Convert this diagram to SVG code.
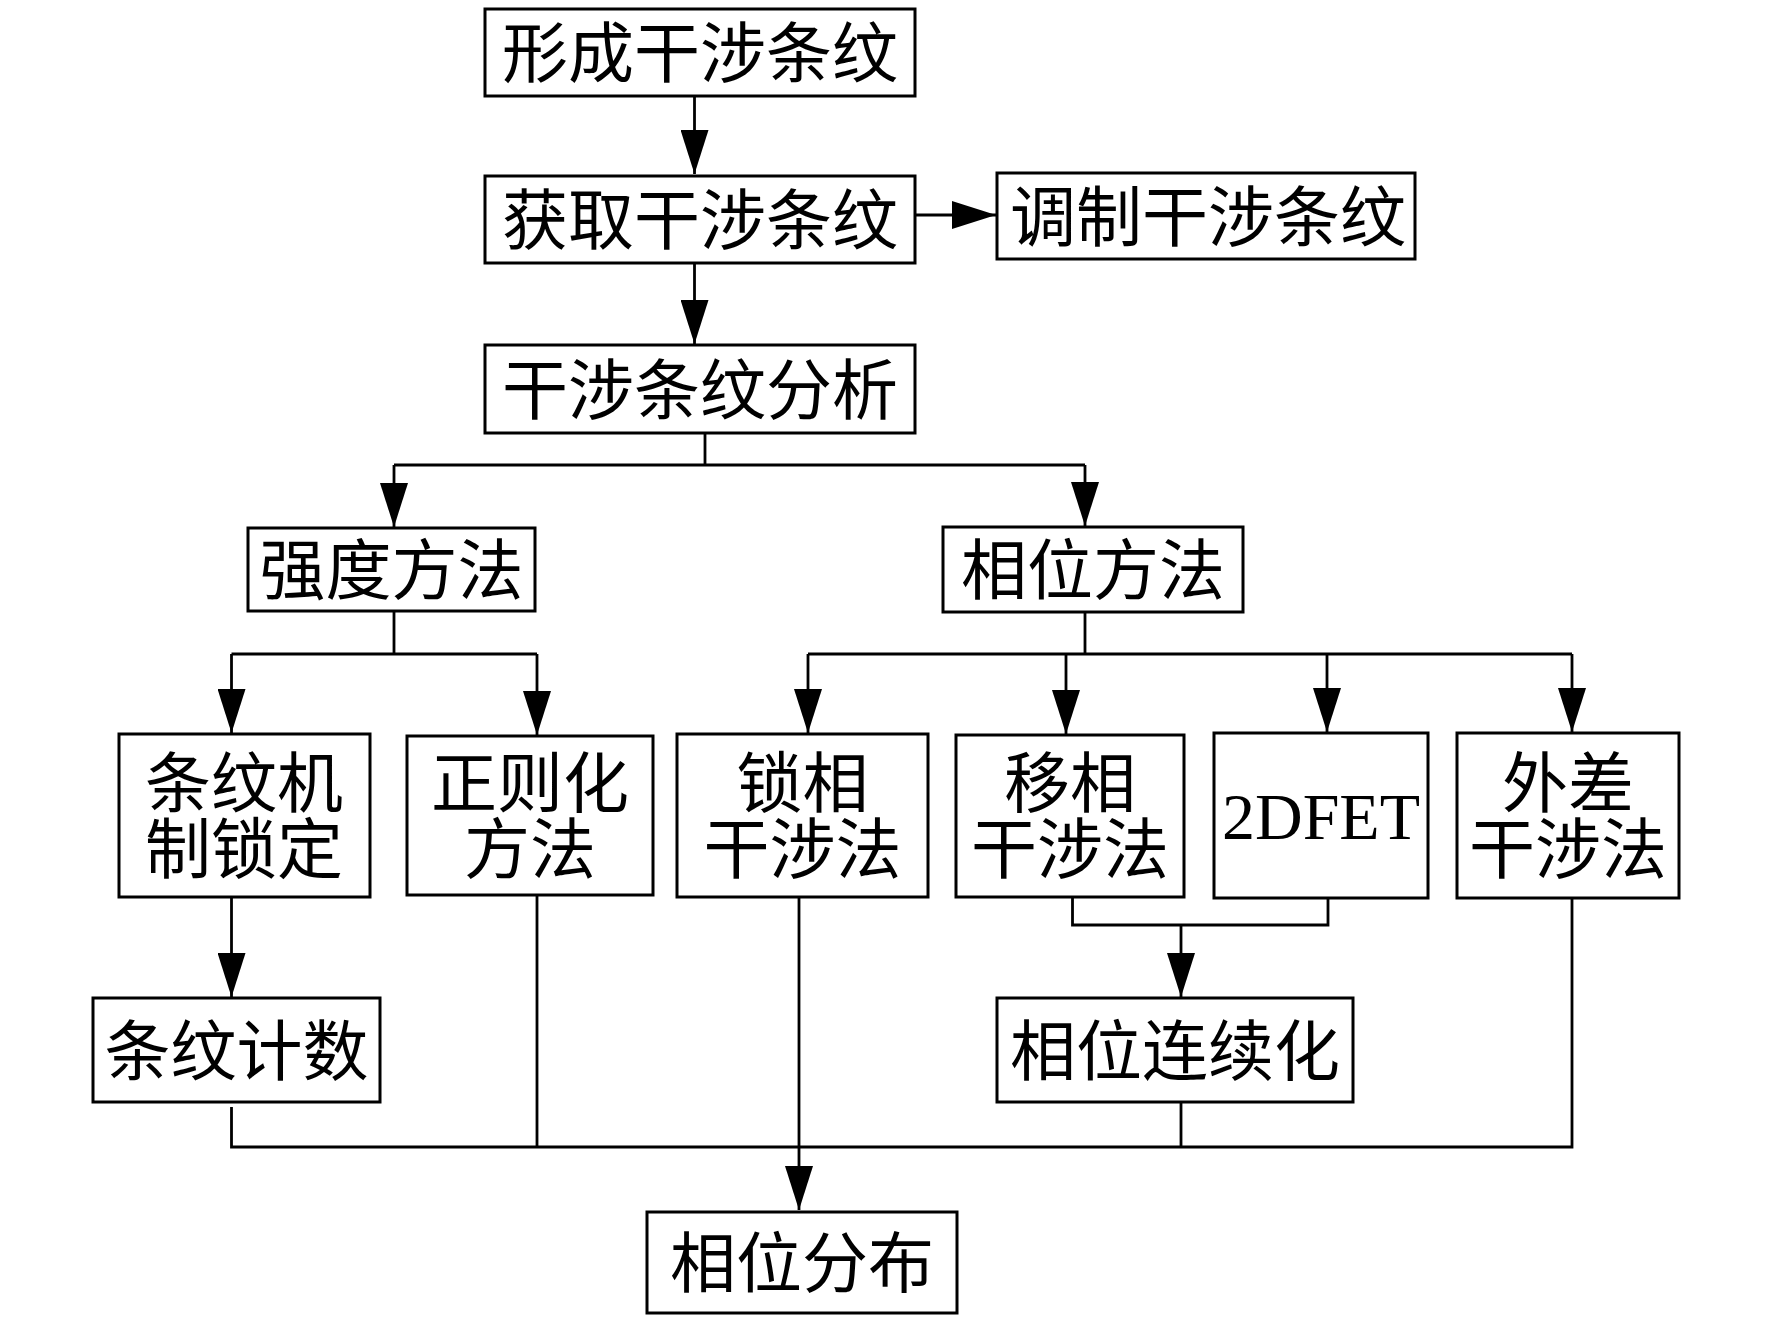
<svg xmlns="http://www.w3.org/2000/svg" width="1772" height="1323" viewBox="0 0 1772 1323">
<style>
.box{fill:#fff;stroke:#000;stroke-width:3}
.t{font-family:"Liberation Serif","Noto Sans CJK SC",serif;font-size:66px;fill:#000;text-anchor:middle}
.e{font-family:"Liberation Serif",serif;font-size:66px;fill:#000;text-anchor:middle}
.c{fill:none;stroke:#000;stroke-width:2.8}
</style>
<defs>
<marker id="ah" markerUnits="userSpaceOnUse" markerWidth="44" markerHeight="28" refX="44" refY="14" orient="auto">
<path d="M0,0 L44,14 L0,28 z" fill="#000"/>
</marker>
</defs>
<rect width="1772" height="1323" fill="#fff"/>
<g id="connectors">
<path class="c" d="M694.5,96 V174" marker-end="url(#ah)"/>
<path class="c" d="M915,215 H996" marker-end="url(#ah)"/>
<path class="c" d="M694.5,263 V344" marker-end="url(#ah)"/>
<path class="c" d="M705,433 V465 M394,465 H1085"/>
<path class="c" d="M394,465 V527" marker-end="url(#ah)"/>
<path class="c" d="M1085,465 V526" marker-end="url(#ah)"/>
<path class="c" d="M394,611 V654 M231.5,654 H537"/>
<path class="c" d="M231.5,654 V733" marker-end="url(#ah)"/>
<path class="c" d="M537,654 V735" marker-end="url(#ah)"/>
<path class="c" d="M1085,612 V654 M808,654 H1572"/>
<path class="c" d="M808,654 V733" marker-end="url(#ah)"/>
<path class="c" d="M1066,654 V734" marker-end="url(#ah)"/>
<path class="c" d="M1327,654 V732" marker-end="url(#ah)"/>
<path class="c" d="M1572,654 V732" marker-end="url(#ah)"/>
<path class="c" d="M231.5,897 V997" marker-end="url(#ah)"/>
<path class="c" d="M1072.5,897 V925 H1328 V898 M1181,925 V997" marker-end="url(#ah)"/>
<path class="c" d="M231.5,1107 V1147 H1572 V898 M537,895 V1147 M1181,1102 V1147"/>
<path class="c" d="M799,897 V1210" marker-end="url(#ah)"/>
</g>
<g id="n1"><rect class="box" x="485" y="9" width="430" height="87"/><text class="t" x="700" y="77">形成干涉条纹</text></g>
<g id="n2"><rect class="box" x="485" y="176" width="430" height="87"/><text class="t" x="700" y="244">获取干涉条纹</text></g>
<g id="n3"><rect class="box" x="997" y="173" width="418" height="86"/><text class="t" x="1208" y="241">调制干涉条纹</text></g>
<g id="n4"><rect class="box" x="485" y="345" width="430" height="88"/><text class="t" x="700" y="414">干涉条纹分析</text></g>
<g id="n5"><rect class="box" x="248" y="528" width="287" height="83"/><text class="t" x="391.5" y="594">强度方法</text></g>
<g id="n6"><rect class="box" x="943" y="527" width="300" height="85"/><text class="t" x="1093" y="594">相位方法</text></g>
<g id="n7"><rect class="box" x="119" y="734" width="251" height="163"/><text class="t" x="244" y="807">条纹机</text><text class="t" x="244" y="873">制锁定</text></g>
<g id="n8"><rect class="box" x="407" y="736" width="246" height="159"/><text class="t" x="530" y="807">正则化</text><text class="t" x="530" y="873">方法</text></g>
<g id="n9"><rect class="box" x="677" y="734" width="251" height="163"/><text class="t" x="802.5" y="807">锁相</text><text class="t" x="802.5" y="873">干涉法</text></g>
<g id="n10"><rect class="box" x="956" y="735" width="228" height="162"/><text class="t" x="1070" y="807">移相</text><text class="t" x="1070" y="873">干涉法</text></g>
<g id="n11"><rect class="box" x="1214" y="733" width="214" height="165"/><text class="e" x="1321" y="839">2DFET</text></g>
<g id="n12"><rect class="box" x="1457" y="733" width="222" height="165"/><text class="t" x="1568" y="807">外差</text><text class="t" x="1568" y="873">干涉法</text></g>
<g id="n13"><rect class="box" x="93" y="998" width="287" height="104"/><text class="t" x="236.5" y="1075">条纹计数</text></g>
<g id="n14"><rect class="box" x="997" y="998" width="356" height="104"/><text class="t" x="1175" y="1075">相位连续化</text></g>
<g id="n15"><rect class="box" x="647" y="1212" width="310" height="101"/><text class="t" x="802" y="1287">相位分布</text></g>
</svg>
